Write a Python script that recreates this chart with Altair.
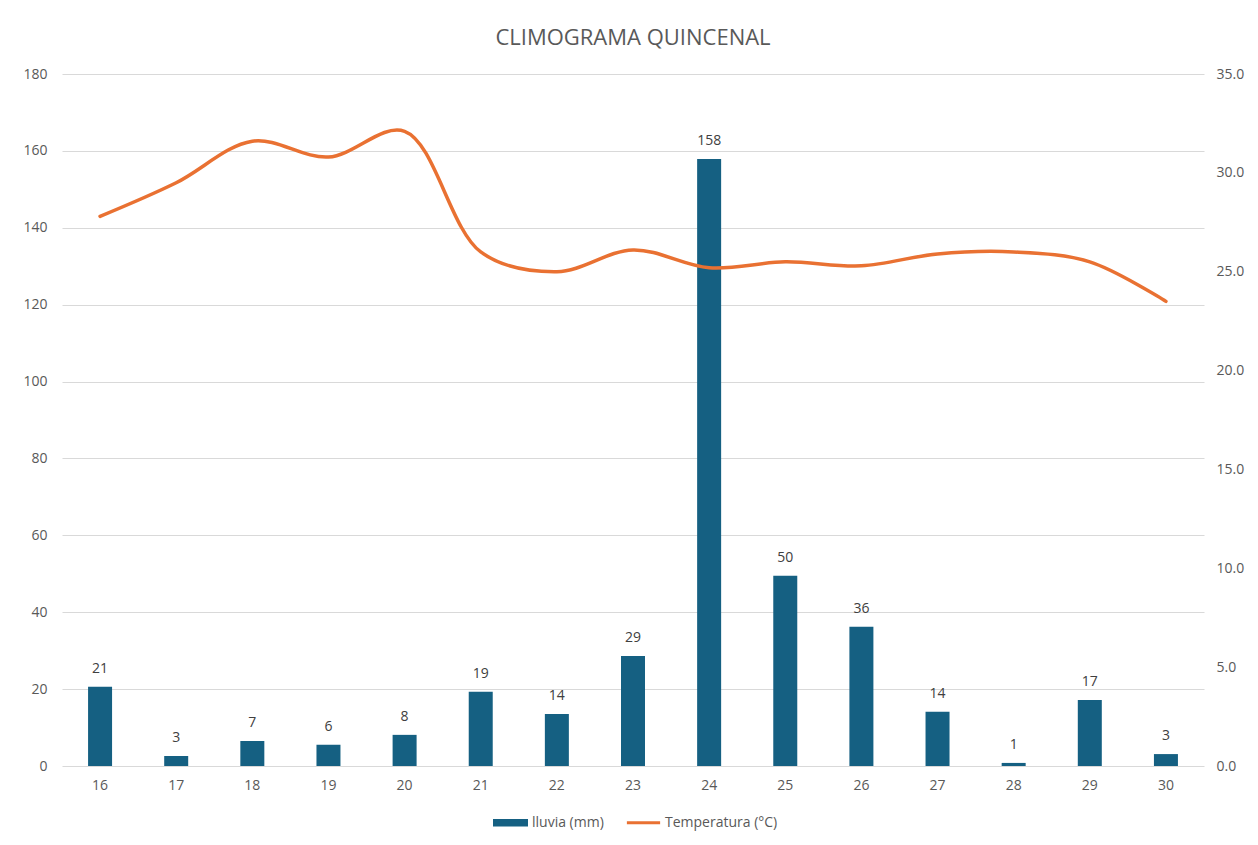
import altair as alt
import pandas as pd

days = ["16", "17", "18", "19", "20", "21", "22", "23", "24", "25", "26", "27", "28", "29", "30"]
lluvia = [20.6, 2.6, 6.5, 5.5, 8.1, 19.3, 13.5, 28.6, 157.9, 49.5, 36.2, 14.1, 0.8, 17.2, 3.1]
lluvia_labels = ["21", "3", "7", "6", "8", "19", "14", "29", "158", "50", "36", "14", "1", "17", "3"]
temperatura = [27.8, 29.5, 31.6, 30.8, 32.1, 26.0, 25.0, 26.1, 25.2, 25.5, 25.3, 25.9, 26.0, 25.5, 23.5]
series_names = ["lluvia (mm)", "Temperatura (°C)"]
series_colors = ["#156082", "#E97132"]
left_ticks = list(range(0, 181, 20))
right_ticks = [0, 5, 10, 15, 20, 25, 30, 35]

W, H = 1142, 692
PL, PT, PR, PB = 54, 66, 46, 71

df = pd.DataFrame({"day": days, "lluvia": lluvia, "temp": temperatura, "label": lluvia_labels})
leg = pd.DataFrame({"serie": series_names})

FONT = "Open Sans"
GREY = "#595959"
FS = 14

x = alt.X("day:O", sort=days,
          scale=alt.Scale(paddingInner=0, paddingOuter=0),
          axis=alt.Axis(title=None, labelAngle=0, labelFontSize=FS, labelColor=GREY,
                        labelFont=FONT, domain=False, ticks=False, labelPadding=12, grid=False))

yl = alt.Y("lluvia:Q", scale=alt.Scale(domain=[0, 180], nice=False),
           axis=alt.Axis(title=None, orient="left", values=left_ticks, labelFontSize=FS,
                         labelColor=GREY, labelFont=FONT, domain=False, ticks=False,
                         labelPadding=15, grid=True, gridColor="#d9d9d9", gridWidth=1))

bars = alt.Chart(df).mark_bar(size=24, color=series_colors[0]).encode(x=x, y=yl)
labels = alt.Chart(df).mark_text(dy=-18, fontSize=FS, color="#404040", font=FONT).encode(
    x=x, y=alt.Y("lluvia:Q"), text="label:N")

legend_layer = alt.Chart(leg).mark_point(filled=True, opacity=0, size=1225).encode(
    color=alt.Color("serie:N", sort=series_names,
                    scale=alt.Scale(domain=series_names, range=series_colors),
                    legend=alt.Legend(title=None, orient="none", direction="horizontal",
                                      legendX=431, legendY=731,
                                      labelFontSize=FS, labelColor=GREY, labelFont=FONT,
                                      labelLimit=300,
                                      symbolOpacity=1, symbolSize=1225, symbolStrokeWidth=0,
                                      columnPadding=22, labelOffset=4)),
    shape=alt.Shape("serie:N", sort=series_names,
                    scale=alt.Scale(domain=series_names,
                                    range=["M-1,-0.22H1V0.22H-1Z", "M-0.95,-0.09H0.95V0.09H-0.95Z"]),
                    legend=None),
)

left = alt.layer(bars, labels, legend_layer)

line = alt.Chart(df).mark_line(color=series_colors[1], strokeWidth=3.5, interpolate="catmull-rom",
                               strokeCap="round").encode(
    x=x,
    y=alt.Y("temp:Q", scale=alt.Scale(domain=[0, 35], nice=False),
            axis=alt.Axis(title=None, orient="right", values=right_ticks, format=".1f",
                          labelFontSize=FS, labelColor=GREY, labelFont=FONT, domain=False,
                          ticks=False, labelPadding=12, grid=False)))

chart = alt.layer(left, line).resolve_scale(y="independent").properties(
    width=W, height=H,
    title=alt.TitleParams("CLIMOGRAMA QUINCENAL", fontSize=22, color=GREY, font=FONT,
                          fontWeight="normal", anchor="middle", offset=17),
    autosize=alt.AutoSizeParams(type="none"),
    padding={"left": PL, "top": PT, "right": PR, "bottom": PB},
    background="white",
).configure_view(stroke=None)

chart.save("out.html", embed_options={"renderer": "svg", "actions": False})
